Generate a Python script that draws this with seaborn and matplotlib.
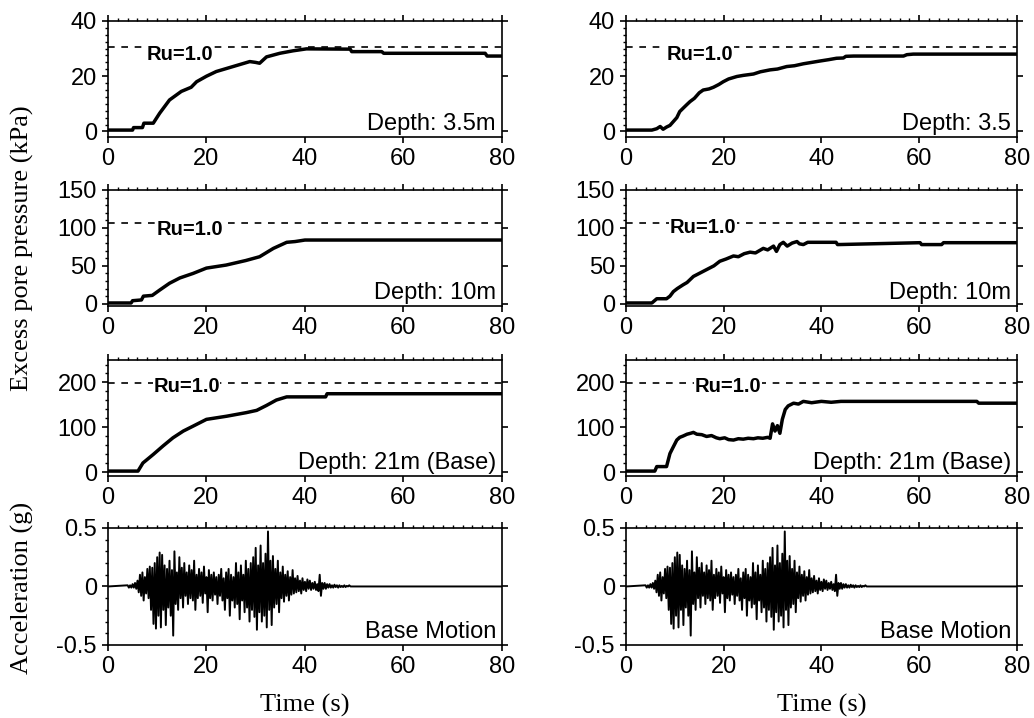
import numpy as np
import matplotlib
matplotlib.use("Agg")
import matplotlib.pyplot as plt
import seaborn as sns
from matplotlib.ticker import MultipleLocator

sns.set_style("ticks")
plt.rcParams["font.family"] = ["Liberation Sans", "DejaVu Sans"]
plt.rcParams["text.color"] = "black"
plt.rcParams["axes.labelcolor"] = "black"
plt.rcParams["xtick.color"] = "black"
plt.rcParams["ytick.color"] = "black"

# ---- pore pressure records (time s, kPa) ----
# left column
l35_t = [0, 5, 5.2, 7, 7.3, 9.2, 10.5, 12.5, 14.9, 16.9, 18, 20, 22, 25.4, 28.8, 30,
         30.8, 32.2, 34.9, 37.6, 40.3, 49.2, 49.5, 55.6, 56, 76.6, 77, 80]
l35_p = [0.5, 0.5, 1.4, 1.4, 3, 3, 6.6, 11.4, 14.5, 16, 18, 20, 21.7, 23.5, 25.3, 25,
         24.7, 27, 28.3, 29.2, 29.9, 29.8, 28.9, 28.9, 28.3, 28.3, 27.3, 27.3]

l10_t = [0, 4.7, 5, 6.8, 7.2, 9, 10.5, 12.5, 14.6, 17.3, 20, 24, 28, 30.8, 33.6, 36.3, 38, 40, 80]
l10_p = [1, 1, 4, 5, 10, 11, 18, 27, 34, 40, 47, 51, 57, 62, 73, 81, 82, 84, 84]

l21_t = [0, 6.1, 7.1, 9.2, 11.2, 13.2, 15.3, 17.3, 20, 24.1, 28.1, 30.2, 32.2, 34.2,
         36.3, 44.2, 44.5, 80]
l21_p = [3, 3, 21, 40, 59, 77, 92, 103, 118, 125, 133, 138, 149, 161, 168, 168, 175, 175]

# right column
r35_t = [0, 5.3, 6.3, 7, 7.6, 8.3, 9.0, 9.7, 10.4, 11, 11.8, 12.5, 13.1, 14, 15, 15.8,
         17, 17.9, 19, 19.9, 21, 22.7, 24, 26.1, 27.5, 29.5, 31, 32.9, 34.5, 36.3, 38,
         39.7, 41.5, 43.1, 44.5, 45, 46.6, 50, 56.8, 57.5, 58.8, 80]
r35_p = [0.5, 0.5, 1.0, 1.8, 0.8, 1.6, 2.2, 3.6, 5, 7.2, 8.6, 9.8, 10.8, 12, 14, 15,
         15.4, 16, 17, 18, 19, 19.9, 20.3, 20.8, 21.6, 22.3, 22.6, 23.5, 23.8, 24.5, 25,
         25.5, 26, 26.5, 26.6, 27.2, 27.3, 27.3, 27.3, 27.8, 28, 28]

r10_t = [0, 5.3, 6.3, 8.3, 9.0, 9.7, 10.5, 11.7, 12.5, 13.8, 15, 16.5, 18, 19.2, 20.5,
         22, 23, 24.2, 25.4, 26.5, 28.1, 29, 30.2, 30.8, 31.5, 32.2, 33, 34, 35, 35.5,
         36.3, 37.2, 38.4, 43, 43.3, 60.2, 60.5, 64.6, 65, 80]
r10_p = [1, 1, 6.6, 6.6, 10, 16, 20, 25, 28, 36, 40, 45, 50, 56, 59, 63, 62, 66, 68, 67,
         73, 71, 76, 69, 78, 81, 76, 80, 82, 79, 78, 81, 81, 81, 78, 80.5, 78, 78, 80.5, 80.5]

r21_t = [0, 5.9, 6.3, 8.3, 9, 9.6, 10.4, 11.0, 11.7, 12.5, 13.2, 13.8, 14.5, 15.5, 16.5,
         17.5, 18.5, 19.2, 20.2, 21, 22, 23, 24, 25, 26.1, 27, 28, 29, 29.5, 30.0, 30.5,
         31.0, 31.5, 32.0, 32.6, 33.2, 34.3, 35.3, 36.3, 38, 40, 42, 44, 50, 71.8, 72.2, 80]
r21_p = [3, 3, 13, 13, 42, 55, 72, 78, 81, 85, 87, 89, 85, 84, 80, 82, 77, 75, 77, 73,
         72, 75, 74, 76, 75, 77, 76, 78, 76, 108, 92, 104, 87, 118, 140, 148, 154, 152,
         158, 155, 158, 156, 158, 158, 158, 154, 154]

# ---- base motion: positive peaks at 4.0, 4.5 ... 50.0 s, negative peaks 0.25 s later ----
acc_pos = [0.01, 0.01, 0.02, 0.03, 0.05, 0.10, 0.12, 0.08, 0.15, 0.17,
           0.16, 0.20, 0.25, 0.29, 0.27, 0.18, 0.15, 0.22, 0.14, 0.30,
           0.12, 0.25, 0.16, 0.20, 0.12, 0.18, 0.14, 0.22, 0.10, 0.15,
           0.12, 0.17, 0.08, 0.14, 0.10, 0.12, 0.08, 0.10, 0.15, 0.07,
           0.12, 0.15, 0.10, 0.08, 0.20, 0.12, 0.18, 0.10, 0.22, 0.15,
           0.20, 0.25, 0.33, 0.18, 0.35, 0.20, 0.28, 0.47, 0.22, 0.26,
           0.15, 0.22, 0.12, 0.17, 0.10, 0.13, 0.08, 0.14, 0.07, 0.09,
           0.05, 0.07, 0.04, 0.06, 0.05, 0.03, 0.04, 0.02, 0.10, 0.03,
           0.03, 0.02, 0.02, 0.01, 0.015, 0.01, 0.01, 0.005, 0.01, 0.005,
           0.01, 0.0, 0.0]
acc_neg = [-0.01, -0.01, -0.01, -0.02, -0.05, -0.08, -0.12, -0.06, -0.10, -0.20,
           -0.32, -0.36, -0.25, -0.35, -0.20, -0.33, -0.18, -0.25, -0.42, -0.15,
           -0.20, -0.10, -0.18, -0.08, -0.15, -0.10, -0.12, -0.20, -0.10, -0.08,
           -0.14, -0.06, -0.22, -0.10, -0.12, -0.07, -0.15, -0.08, -0.12, -0.20,
           -0.10, -0.25, -0.12, -0.18, -0.15, -0.28, -0.12, -0.22, -0.18, -0.30,
           -0.20, -0.26, -0.37, -0.22, -0.30, -0.25, -0.35, -0.20, -0.33, -0.18,
           -0.15, -0.22, -0.10, -0.13, -0.08, -0.12, -0.07, -0.06, -0.05, -0.04,
           -0.06, -0.03, -0.04, -0.02, -0.03, -0.02, -0.03, -0.04, -0.08, -0.02,
           -0.02, -0.01, -0.01, -0.01, -0.005, -0.01, -0.005, -0.005, -0.005, 0.0,
           0.0, 0.0, 0.0]

peak_t = np.arange(4.0, 50.01, 0.5)
acc_t = np.empty(2 * len(peak_t))
acc_g = np.empty(2 * len(peak_t))
acc_t[0::2] = peak_t
acc_t[1::2] = peak_t + 0.25
acc_g[0::2] = acc_pos
acc_g[1::2] = acc_neg
acc_t = np.concatenate([[0.0], acc_t, [80.0]])
acc_g = np.concatenate([[0.0], acc_g, [0.0]])

# Ru = 1.0 levels and labels per row
ru_level = [30.5, 106, 198]
depth_left = ["Depth: 3.5m", "Depth: 10m", "Depth: 21m (Base)"]
depth_right = ["Depth: 3.5", "Depth: 10m", "Depth: 21m (Base)"]

fig = plt.figure(figsize=(10.34, 7.18), dpi=100)

col_x = [0.1044, 0.6054]
col_w = [0.381, 0.378]
row_b = [0.8092, 0.5738, 0.337, 0.1017]
row_h = [0.1616, 0.1616, 0.1616, 0.163]

ylims = [(-2, 40), (-3, 150), (-8, 250), (-0.5, 0.5)]
yticks = [[0, 20, 40], [0, 50, 100, 150], [0, 100, 200], [-0.5, 0, 0.5]]
yminor = [2.5, 10, 20, 0.1]
yfmt = [None, None, None, ["-0.5", "0", "0.5"]]

records = [[(l35_t, l35_p), (l10_t, l10_p), (l21_t, l21_p)],
           [(r35_t, r35_p), (r10_t, r10_p), (r21_t, r21_p)]]
ru_pos = [[(7.8, 28.0), (9.8, 98), (9.2, 192)],
          [(8.3, 28.0), (9.0, 100), (14.1, 192)]]

for c in range(2):
    for r in range(4):
        ax = fig.add_axes([col_x[c], row_b[r], col_w[c], row_h[r]])
        if r < 3:
            t, p = records[c][r]
            sns.lineplot(x=t, y=p, ax=ax, color="black", linewidth=2.5,
                         estimator=None, sort=False)
            ax.axhline(ru_level[r], color="black", linewidth=1.2,
                       linestyle=(0, (4, 4)), zorder=1)
            rx, ry = ru_pos[c][r]
            ax.text(rx, ry, "Ru=1.0", fontsize=14.5, fontweight="bold", ha="left",
                    va="center", zorder=5, color="black",
                    bbox=dict(facecolor="white", edgecolor="none", pad=0.5))
            label = depth_left[r] if c == 0 else depth_right[r]
        else:
            sns.lineplot(x=acc_t, y=acc_g, ax=ax, color="black", linewidth=1.4,
                         estimator=None, sort=False)
            label = "Base Motion"
        ax.text(0.985, 0.015, label, transform=ax.transAxes, fontsize=17,
                ha="right", va="bottom", zorder=6, color="black")

        ax.set_xlim(0, 80)
        ax.set_ylim(*ylims[r])
        ax.set_xticks([0, 20, 40, 60, 80])
        ax.set_yticks(yticks[r])
        if yfmt[r] is not None:
            ax.set_yticklabels(yfmt[r])
        ax.xaxis.set_minor_locator(MultipleLocator(2))
        ax.yaxis.set_minor_locator(MultipleLocator(yminor[r]))
        ax.tick_params(which="major", direction="out", length=4, width=1.2,
                       top=True, right=True, labelsize=17, pad=4,
                       colors="black", labelcolor="black")
        ax.tick_params(which="minor", direction="out", length=2.5, width=1.0,
                       top=True, left=True, bottom=False, right=False)
        for s in ax.spines.values():
            s.set_visible(True)
            s.set_linewidth(1.2)
            s.set_color("black")
        ax.set_xlabel("")
        ax.set_ylabel("")

    fig.text(col_x[c] + col_w[c] / 2, 0.017, "Time (s)", ha="center", va="center",
             fontsize=19, color="black", family=["Liberation Serif", "DejaVu Serif"])

fig.text(0.022, 0.6546, "Excess pore pressure (kPa)", rotation=90, ha="center",
         va="center", fontsize=19, color="black",
         family=["Liberation Serif", "DejaVu Serif"])
fig.text(0.022, 0.181, "Acceleration (g)", rotation=90, ha="center",
         va="center", fontsize=19, color="black",
         family=["Liberation Serif", "DejaVu Serif"])

fig.savefig("out.png", dpi=100, facecolor="white")
